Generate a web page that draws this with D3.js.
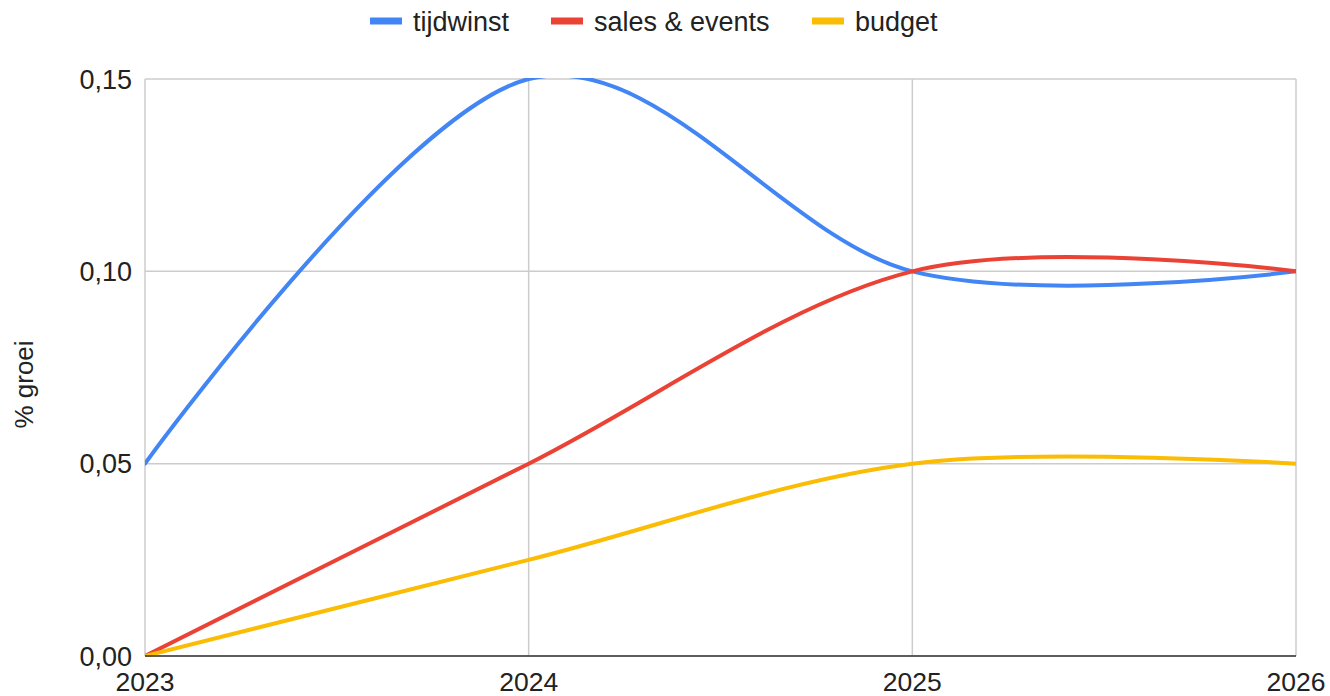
<!DOCTYPE html>
<html>
<head>
<meta charset="utf-8">
<script src="https://cdn.jsdelivr.net/npm/d3@7"></script>
<style>
  body { margin: 0; background: #fff; }
  svg { font-family: "Liberation Sans", Arial, sans-serif; }
</style>
</head>
<body>
<div id="chart"></div>
<script>
// data
const years = [2023, 2024, 2025, 2026];
const tijdwinst = [0.05, 0.15, 0.10, 0.10];
const salesEvents = [0, 0.05, 0.10, 0.10];
const budget = [0, 0.025, 0.05, 0.05];
const yTicks = [0, 0.05, 0.10, 0.15];

const series = [
    { name: "tijdwinst", values: tijdwinst, color: "#4285f4" },
    { name: "sales & events", values: salesEvents, color: "#ea4335" },
    { name: "budget", values: budget, color: "#fbbc04" }
];

const width = 1330;
const height = 696;
const marginTop = 79;
const marginRight = 34;
const marginBottom = 40;
const marginLeft = 145;
const fontSize = 27;

const svg = d3.select("#chart")
    .append("svg")
    .attr("width", width)
    .attr("height", height)
    .attr("viewBox", [0, 0, width, height]);

const x = d3.scaleLinear([years[0], years[years.length - 1]], [marginLeft, width - marginRight]);
const y = d3.scaleLinear([0, 0.15], [height - marginBottom, marginTop]);

const fmt = v => d3.format(".2f")(v).replace(".", ",");

// grid
svg.append("g")
    .selectAll("line")
    .data(yTicks)
    .join("line")
    .attr("x1", marginLeft)
    .attr("x2", width - marginRight)
    .attr("y1", d => y(d))
    .attr("y2", d => y(d))
    .attr("stroke", "#cccccc")
    .attr("stroke-width", 1.5);

svg.append("g")
    .selectAll("line")
    .data(years)
    .join("line")
    .attr("x1", d => x(d))
    .attr("x2", d => x(d))
    .attr("y1", marginTop)
    .attr("y2", height - marginBottom)
    .attr("stroke", "#cccccc")
    .attr("stroke-width", 1.5);

// y tick labels
svg.append("g")
    .selectAll("text")
    .data(yTicks)
    .join("text")
    .attr("x", marginLeft - 13)
    .attr("y", d => y(d))
    .attr("dy", "0.36em")
    .attr("text-anchor", "end")
    .attr("font-size", fontSize)
    .attr("fill", "#222")
    .text(d => fmt(d));

// x tick labels
svg.append("g")
    .selectAll("text")
    .data(years)
    .join("text")
    .attr("x", d => x(d))
    .attr("y", height - 5)
    .attr("text-anchor", "middle")
    .attr("font-size", 26.5)
    .attr("fill", "#222")
    .text(d => d);

// y axis title
svg.append("text")
    .attr("transform", `translate(33,${(marginTop + height - marginBottom) / 2 + 17}) rotate(-90)`)
    .attr("text-anchor", "middle")
    .attr("font-size", 26)
    .attr("fill", "#222")
    .text("% groei");

// lines, clipped to the plot area like the original
svg.append("clipPath")
    .attr("id", "plot")
    .append("rect")
    .attr("x", marginLeft)
    .attr("y", marginTop - 1)
    .attr("width", width - marginLeft - marginRight)
    .attr("height", height - marginTop - marginBottom + 2);

const line = d3.line()
    .x((d, i) => x(years[i]))
    .y(d => y(d))
    .curve(d3.curveCardinal.tension(0));

svg.append("g")
    .attr("clip-path", "url(#plot)")
    .selectAll("path")
    .data(series)
    .join("path")
    .attr("d", d => line(d.values))
    .attr("fill", "none")
    .attr("stroke", d => d.color)
    .attr("stroke-width", 4)
    .attr("stroke-linecap", "round");

// baseline
svg.append("line")
    .attr("x1", marginLeft)
    .attr("x2", width - marginRight)
    .attr("y1", y(0))
    .attr("y2", y(0))
    .attr("stroke", "#333")
    .attr("stroke-width", 1.5);

// legend
const legendX = [370, 551, 812];
const legend = svg.append("g")
    .selectAll("g")
    .data(series)
    .join("g")
    .attr("transform", (d, i) => `translate(${legendX[i]},21)`);

legend.append("rect")
    .attr("x", 0)
    .attr("y", -3.5)
    .attr("width", 32)
    .attr("height", 7)
    .attr("fill", d => d.color);

legend.append("text")
    .attr("x", 43)
    .attr("y", 0)
    .attr("dy", "0.36em")
    .attr("font-size", fontSize)
    .attr("fill", "#222")
    .text(d => d.name);
</script>
</body>
</html>
